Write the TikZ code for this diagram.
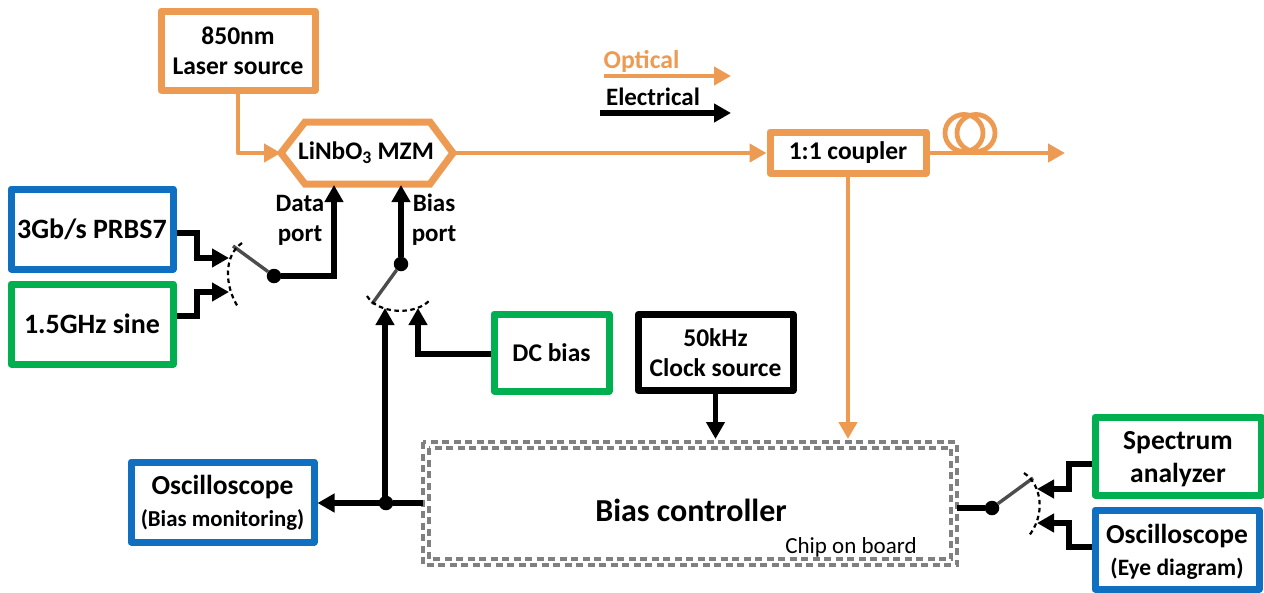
\documentclass[tikz,border=0pt]{standalone}
\usepackage{fontspec}
\setmainfont{Carlito}
\usetikzlibrary{arrows.meta}
\definecolor{orng}{HTML}{ED9A52}
\definecolor{blu}{HTML}{0F6FC0}
\definecolor{grn}{HTML}{00B050}
\definecolor{gry}{HTML}{808080}
\tikzset{
  x=1pt,y=-1pt,
  box/.style={draw=#1,line width=7pt,line join=round,inner sep=0pt,align=center,font=\fontsize{25.5}{32}\selectfont\bfseries,fill=white,text=black},
  big/.style={font=\fontsize{27.5}{33}\selectfont\bfseries},
  lbl/.style={inner sep=0pt,align=center,font=\fontsize{25}{30}\selectfont\bfseries},
  ewire/.style={draw=black,line width=5.5pt,line join=miter,-{Triangle[length=17pt,width=18pt]}},
  eplain/.style={draw=black,line width=5.5pt},
  owire/.style={draw=orng,line width=4.8pt,line join=round,-{Triangle[length=17pt,width=18pt]}},
  dot/.style={circle,fill=black,inner sep=0pt,minimum size=14.5pt},
  arm/.style={draw=black!70,line width=3.4pt},
  arc/.style={draw=black,line width=2.2pt,dash pattern=on 4.5pt off 3.5pt},
  ctl/.style={draw=gry,line width=3.6pt,dash pattern=on 7pt off 4.5pt},
}
\begin{document}
\begin{tikzpicture}
\useasboundingbox (0,0) rectangle (1264,592);
% boxes
\node[box=orng,minimum width=154pt,minimum height=79pt] (laser) at (238,50.5) {850nm\\[-2pt]Laser source};
\node[box=blu,font=\fontsize{28}{33}\selectfont\bfseries,minimum width=162pt,minimum height=80pt] (prbs) at (92,229) {3Gb/s PRBS7};
\node[box=grn,font=\fontsize{28}{33}\selectfont\bfseries,minimum width=162pt,minimum height=80pt] (sine) at (92,324) {1.5GHz sine};
\node[box=grn,minimum width=115pt,minimum height=77pt] (dc) at (551.5,352.5) {DC bias};
\node[box=black,minimum width=155pt,minimum height=76pt] (clock) at (715.5,352.5) {50kHz\\[-2pt]Clock source};
\node[box=blu,big,minimum width=183pt,minimum height=80pt] (oscb) at (222.5,502) {\rule{0pt}{21pt}Oscilloscope\\[-1pt]{\fontsize{22.8}{28}\selectfont (Bias monitoring)}};
\node[box=grn,big,minimum width=166pt,minimum height=78pt] (spec) at (1178,456) {\rule{0pt}{25pt}Spectrum\\[0pt]analyzer};
\node[box=blu,big,minimum width=164pt,minimum height=79pt] (osce) at (1177,549.5) {\rule{0pt}{24pt}Oscilloscope\\[-1pt]{\fontsize{23.5}{28}\selectfont (Eye diagram)}};
\node[box=orng,minimum width=156pt,minimum height=41pt] (coupler) at (848,152.5) {1:1 coupler};
% MZM
\coordinate (mzl) at (281,153);
\coordinate (mzr) at (453,153);
\coordinate (mzb1) at (334,185);
\coordinate (mzb2) at (401,185);
\draw[orng,line width=7pt,line join=miter] (mzl) -- (305,122) -- (430,122) -- (mzr) -- (430,184) -- (305,184) -- cycle;
\node[inner sep=0pt,font=\fontsize{25.3}{30}\selectfont\bfseries] (mzm) at (366,153) {LiNbO\textsubscript{3} MZM};
% controller
\draw[ctl] (423,442) rectangle (957,565);
\draw[ctl] (429,448) rectangle (951,559);
\coordinate (ctlW) at (423,503);
\coordinate (ctlE) at (957,508);
\coordinate (ctlN1) at (715.5,439);
\coordinate (ctlN2) at (848,439);
\node[inner sep=0pt,font=\fontsize{32}{36}\selectfont\bfseries] (ctl) at (691,510) {Bias controller};
\node[inner sep=0pt,font=\fontsize{23}{26}\selectfont] (cob) at (851,547) {Chip on board};
% legend
\node[lbl,text=orng,font=\fontsize{25.7}{30}\selectfont\bfseries] (lo) at (641.5,61) {Optical};
\node[lbl] (le) at (653,97) {Electrical};
\coordinate (lo1) at (604,76); \coordinate (lo2) at (731,76);
\coordinate (le1) at (600,113); \coordinate (le2) at (731,113);
\draw[owire] (lo1) -- (lo2);
\draw[ewire] (le1) -- (le2);
% optical
\draw[owire] (laser.south) -- (238,153) -- (mzl);
\draw[owire] (mzr) -- (coupler.west |- mzr);
\coordinate (out) at (1065,153);
\draw[owire] (coupler.east |- out) -- (out);
\draw[owire] (coupler.south) -- (ctlN2);
\draw[orng,line width=4.8pt] (964,133) ellipse (19pt and 18.5pt);
\draw[orng,line width=4.8pt] (976,133) ellipse (19pt and 18.5pt);
% data switch
\node[dot] (jd) at (274,276) {};
\coordinate (ad) at (233,246);
\draw[arm] (ad) -- (jd);
\draw[arc] (242,243) .. controls (224,255) and (224,285) .. (238,307);
\coordinate (t1) at (229,258); \coordinate (t2) at (229,292);
\draw[ewire] (prbs.east |- 0,233) -- (197,233) -- (197,258) -- (t1);
\draw[ewire] (sine.east |- 0,316) -- (197,316) -- (197,292) -- (t2);
\draw[ewire] (jd) -- (334,276) -- (mzb1);
\node[lbl] (dp) at (300,220) {Data\\[0pt]port};
% bias switch
\node[dot] (jb) at (401,264) {};
\coordinate (ab) at (372,304);
\draw[arm] (ab) -- (jb);
\draw[arc] (367,296) .. controls (378,314) and (415,316) .. (430,300);
\draw[ewire] (jb) -- (mzb2);
\node[lbl] (bp) at (434,220) {Bias\\[0pt]port};
\coordinate (t3) at (385,308); \coordinate (t4) at (418,308);
\draw[ewire] (dc.west |- 0,354) -- (418,354) -- (t4);
% monitoring
\node[dot] (jm) at (386,503) {};
\draw[ewire] (jm) -- (t3 |- jm) -- (t3);
\draw[eplain] (ctlW) -- (jm);
\draw[ewire] (jm) -- (oscb.east |- jm);
\draw[ewire] (clock.south) -- (ctlN1);
% output switch
\node[dot] (jr) at (992,508) {};
\coordinate (ar) at (1033,478);
\draw[eplain] (ctlE) -- (jr);
\draw[arm] (jr) -- (ar);
\draw[arc] (1024,473) .. controls (1042,485) and (1046,515) .. (1028,537);
\coordinate (t5) at (1037,489); \coordinate (t6) at (1037,523);
\draw[ewire] (spec.west |- 0,464) -- (1069,464) -- (1069,489) -- (t5);
\draw[ewire] (osce.west |- 0,547) -- (1069,547) -- (1069,523) -- (t6);
\end{tikzpicture}
\end{document}
